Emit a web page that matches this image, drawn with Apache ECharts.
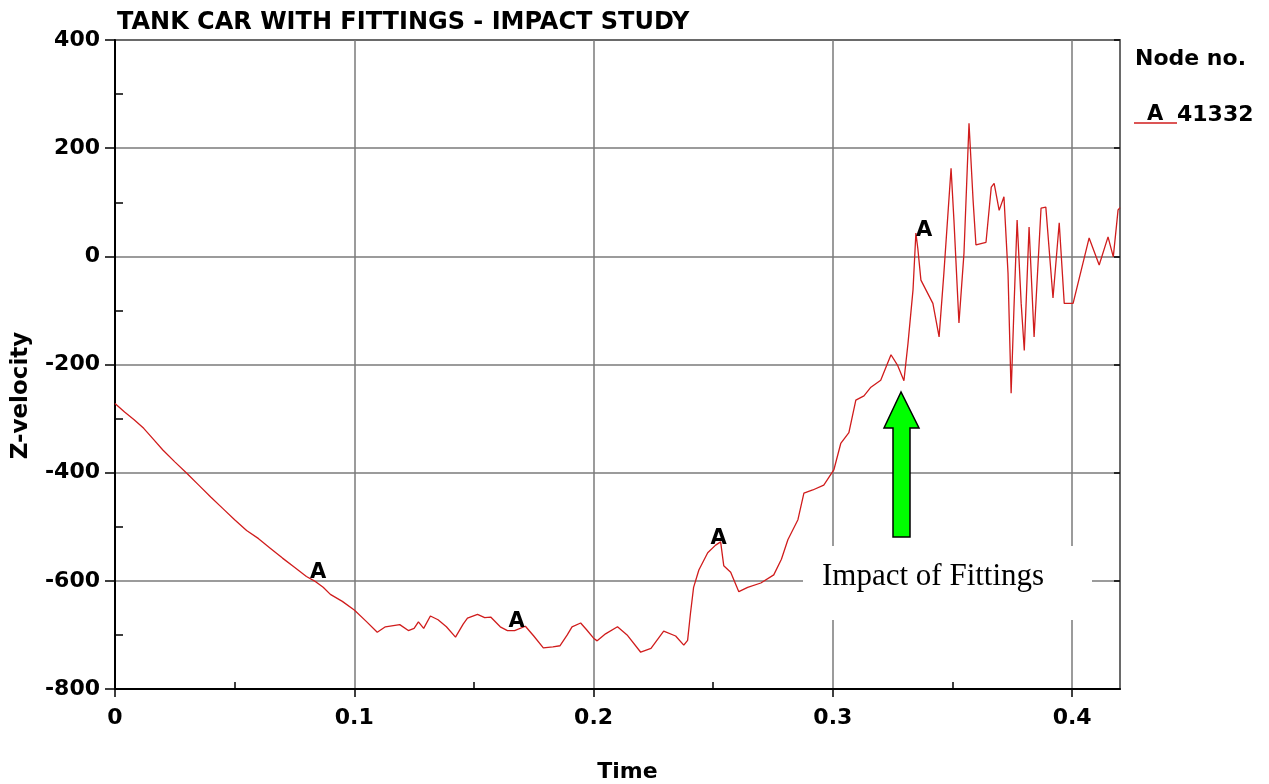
<!DOCTYPE html>
<html>
<head>
<meta charset="utf-8">
<script src="https://cdn.jsdelivr.net/npm/echarts@6/dist/echarts.min.js"></script>
<style>
html,body{margin:0;padding:0;background:#fff;}
#chart{width:1269px;height:784px;}
</style>
</head>
<body>
<div id="chart"></div>
<script>
// ---- data (time, z-velocity) ----
const timeValues = [
  0, 0.004, 0.008, 0.012, 0.016, 0.02, 0.025, 0.03, 0.035, 0.04, 0.045, 0.05, 0.055, 0.06, 0.065, 0.07,
  0.075, 0.08, 0.084, 0.087, 0.09, 0.095, 0.1, 0.105, 0.1096,
  0.113, 0.119, 0.1226, 0.125, 0.1268, 0.129, 0.1318, 0.135, 0.1385, 0.1423, 0.1455, 0.1473, 0.1515,
  0.1545, 0.157, 0.161, 0.164, 0.167, 0.1715, 0.175, 0.179, 0.183, 0.186, 0.189, 0.191, 0.1946, 0.197,
  0.2, 0.2015, 0.205, 0.21, 0.214, 0.2197, 0.224, 0.2293, 0.2343, 0.2377, 0.2393,
  0.2405, 0.2418, 0.244, 0.2477, 0.251, 0.2531, 0.2544, 0.2573, 0.2607, 0.2644, 0.2699, 0.2753, 0.2785,
  0.2812, 0.2854, 0.2879, 0.2916, 0.2962, 0.3004, 0.3033, 0.3067, 0.3096, 0.313, 0.3159, 0.32, 0.3243,
  0.327, 0.3297,
  0.3314, 0.3335, 0.3347, 0.3355, 0.3368, 0.3418, 0.3444, 0.3464, 0.3494, 0.3506, 0.3527, 0.3548, 0.3569,
  0.3586, 0.3598, 0.364, 0.3662, 0.3674, 0.3695, 0.3715, 0.3732, 0.3745, 0.3757, 0.377, 0.3787, 0.38,
  0.382, 0.3841, 0.387, 0.389, 0.392, 0.3946, 0.3967, 0.4004, 0.4071, 0.4113, 0.415, 0.4172, 0.4192, 0.42
];
const zVelocity = [
  -272, -288, -302, -318, -338, -358, -380, -401, -423, -445, -466, -487, -507, -522, -540, -558,
  -575, -592, -602, -612, -625, -638, -654, -675, -695,
  -685, -681, -692, -688, -676, -688, -665, -672, -685, -704, -680, -669, -662,
  -668, -667, -685, -692, -692, -684, -702, -724, -722, -720, -700, -685, -678, -690,
  -706, -711, -698, -685, -700, -732, -725, -693, -702, -719, -710,
  -660, -612, -580, -548, -534, -528, -572, -584, -620, -612, -604, -589, -560,
  -524, -487, -438, -432, -423, -395, -346, -326, -266, -258, -242, -229, -182,
  -201, -230,
  -161, -62, 43, 15, -44, -87, -149, -31, 163, 67, -123, 6, 246,
  104, 21, 26, 128, 135, 85, 110, -31, -253, -94, 67, -87, -174,
  54, -149, 89, 91, -77, 62, -87, -87, 34, -16, 36, -1, 86, 90
];
// curve identification markers "A"
const markerTimes = [0.0849, 0.1678, 0.2523, 0.3381];
const markerValues = [-584, -675, -521, 47];

const xTickLabels = ['0', '0.1', '0.2', '0.3', '0.4'];
const yTickLabels = ['-800', '-600', '-400', '-200', '0', '200', '400'];

const titleText = 'TANK CAR WITH FITTINGS - IMPACT STUDY';
const xAxisName = 'Time';
const yAxisName = 'Z-velocity';
const legendTitle = 'Node no.';
const seriesName = '41332';
const annotationText = 'Impact of Fittings';

const curve = timeValues.map((t, i) => [t, zVelocity[i]]);
const markers = markerTimes.map((t, i) => [t, markerValues[i]]);

const FONT = 'DejaVu Sans';
const chart = echarts.init(document.getElementById('chart'));

function xLabel(v) {
  const k = Math.round(v * 10);
  if (Math.abs(v * 10 - k) > 1e-6) return '';
  return xTickLabels[k] !== undefined ? xTickLabels[k] : '';
}
function yLabel(v) {
  const k = Math.round((v + 800) / 200);
  return yTickLabels[k] !== undefined ? yTickLabels[k] : '';
}

const option = {
  animation: false,
  backgroundColor: '#ffffff',
  title: {
    text: titleText,
    left: 112,
    top: 6,
    textStyle: { fontFamily: FONT, fontSize: 24, fontWeight: 'bold', color: '#000' }
  },
  grid: {
    left: 115, right: 149, top: 40, bottom: 95,
    outerBoundsMode: 'none', containLabel: false,
    show: true, borderColor: '#000', borderWidth: 1.5, backgroundColor: 'transparent'
  },
  xAxis: [
    {
      type: 'value', min: 0, max: 0.42, interval: 0.1, position: 'bottom',
      name: xAxisName, nameLocation: 'middle', nameGap: 68,
      nameTextStyle: { fontFamily: FONT, fontSize: 22, fontWeight: 'bold', color: '#000', padding: [4, 0, 0, 20] },
      axisLine: { show: true, onZero: false, lineStyle: { color: '#000', width: 2 } },
      axisTick: { show: true, inside: false, length: 8, lineStyle: { color: '#000', width: 1.5 } },
      axisLabel: { formatter: xLabel, margin: 18, fontFamily: FONT, fontSize: 22, fontWeight: 'bold', color: '#000', showMaxLabel: false },
      splitLine: { show: true, lineStyle: { color: '#7a7a7a', width: 1.5 } }
    },
    {
      type: 'value', min: 0, max: 0.42, interval: 0.1, position: 'bottom',
      axisLine: { show: false, onZero: false },
      axisTick: { show: false, inside: true },
      minorTick: { show: true, splitNumber: 2, length: 7, lineStyle: { color: '#000', width: 1.5 } },
      axisLabel: { show: false },
      splitLine: { show: false }
    }
  ],
  yAxis: [
    {
      type: 'value', min: -800, max: 400, interval: 200, position: 'left',
      name: yAxisName, nameLocation: 'middle', nameGap: 82, nameRotate: 90,
      nameTextStyle: { fontFamily: FONT, fontSize: 23, fontWeight: 'bold', color: '#000', padding: [0, 62, 0, 0] },
      axisLine: { show: true, onZero: false, lineStyle: { color: '#000', width: 2 } },
      axisTick: { show: true, inside: false, length: 10, lineStyle: { color: '#000', width: 1.5 } },
      axisLabel: { formatter: yLabel, margin: 15, fontFamily: FONT, fontSize: 22, fontWeight: 'bold', color: '#000' },
      splitLine: { show: true, lineStyle: { color: '#7a7a7a', width: 1.5 } }
    },
    {
      type: 'value', min: -800, max: 400, interval: 200, position: 'left',
      axisLine: { show: false, onZero: false },
      axisTick: { show: false, inside: true },
      minorTick: { show: true, splitNumber: 2, length: 8, lineStyle: { color: '#000', width: 1.5 } },
      axisLabel: { show: false },
      splitLine: { show: false }
    },
    {
      type: 'value', min: -800, max: 400, interval: 200, position: 'right',
      axisLine: { show: false, onZero: false },
      axisTick: { show: true, inside: true, length: 6, lineStyle: { color: '#000', width: 1.5 } },
      axisLabel: { show: false },
      splitLine: { show: false }
    }
  ],
  series: [
    {
      name: seriesName,
      type: 'line',
      xAxisIndex: 0, yAxisIndex: 0,
      data: curve,
      showSymbol: false,
      symbol: 'none',
      lineStyle: { color: '#d01c1c', width: 1.3 },
      z: 3
    },
    {
      name: 'markers',
      type: 'scatter',
      xAxisIndex: 0, yAxisIndex: 0,
      data: markers,
      symbolSize: 0,
      itemStyle: { color: '#000' },
      label: {
        show: true, position: 'inside', formatter: 'A',
        fontFamily: FONT, fontSize: 21, fontWeight: 'bold', color: '#000', opacity: 1
      },
      z: 4
    }
  ],
  graphic: [
    // legend
    { type: 'text', left: 1135, top: 48, style: { text: legendTitle, fontFamily: FONT, fontSize: 22, fontWeight: 'bold', fill: '#000' } },
    { type: 'line', shape: { x1: 1134, y1: 123, x2: 1177, y2: 123 }, style: { stroke: '#d01c1c', lineWidth: 1.5 } },
    { type: 'text', left: 1147, top: 104, style: { text: 'A', fontFamily: FONT, fontSize: 21, fontWeight: 'bold', fill: '#000' } },
    { type: 'text', left: 1177, top: 104, style: { text: seriesName, fontFamily: FONT, fontSize: 22, fontWeight: 'bold', fill: '#000' } },
    // annotation box
    { type: 'rect', shape: { x: 803, y: 546, width: 289, height: 74 }, style: { fill: '#ffffff' }, z: 10 },
    { type: 'text', x: 822, y: 577, style: { text: annotationText, fontFamily: 'Liberation Serif', fontSize: 31, fill: '#000', textVerticalAlign: 'middle' }, z: 11 },
    // arrow
    {
      type: 'polygon', z: 11,
      shape: { points: [[901, 392], [884, 428], [893, 428], [893, 537], [910, 537], [910, 428], [919, 428]] },
      style: { fill: '#00ff00', stroke: '#000', lineWidth: 1.5 }
    }
  ]
};
chart.setOption(option);
</script>
</body>
</html>
